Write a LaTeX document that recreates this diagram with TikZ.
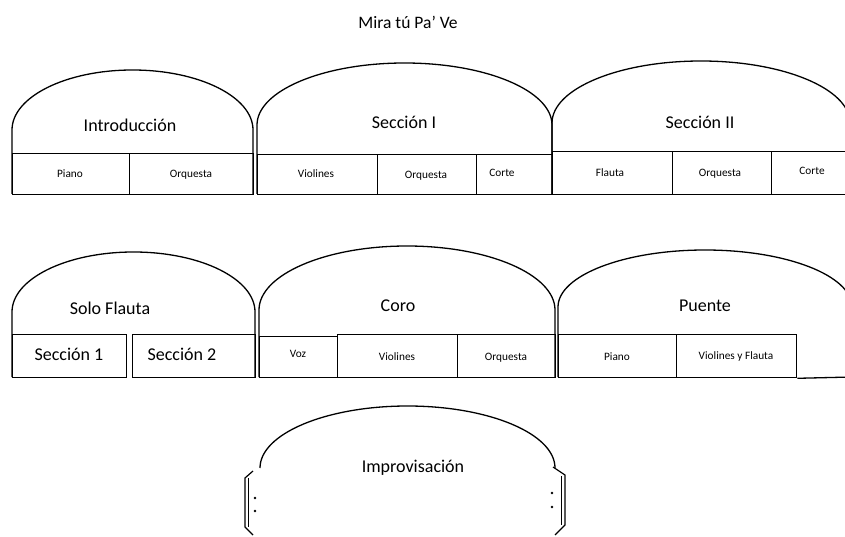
\documentclass[tikz,border=0pt]{standalone}
\usepackage{fontspec}
\setmainfont{Carlito}
\tikzset{
  arcline/.style={draw=black, line width=1.3pt},
  cell/.style={draw=black, line width=1.3pt, inner sep=0pt, anchor=north west},
  small/.style={font=\fontsize{11.3}{13}\selectfont, inner sep=0pt, text height=7.5pt, text depth=2.5pt},
  mid/.style={font=\fontsize{18}{21}\selectfont, inner sep=0pt, text height=12.5pt, text depth=4pt},
  title/.style={font=\fontsize{18}{21}\selectfont, inner sep=0pt, text height=12.5pt, text depth=4pt},
  toptitle/.style={font=\fontsize{17.5}{20}\selectfont, inner sep=0pt},
  repline/.style={draw=black, line width=1.2pt},
}
\newcommand\myarch[6]{% L, R, bottom, cy, rx, ry
  \draw[arcline] (#1,#3) -- (#1,#4) arc[start angle=180, end angle=0, x radius=#5pt, y radius=#6pt] -- (#2,#3);}
\newcommand\mycell[5]{% name, L, R, top, bottom
  \node[cell, minimum width={(#3-#2)*1pt}, minimum height={(#5-#4)*1pt}] (#1) at (#2,#4) {};}
\begin{document}
\begin{tikzpicture}[x=1pt, y=-1pt]
\useasboundingbox (0,0) rectangle (845,537);
\clip (0,0) rectangle (845,537);
\fill[white] (0,0) rectangle (845,537);

\node[toptitle] (title) at (408,22) {Mira tú Pa’ Ve};

% ---------- Row 1 ----------
\myarch{12}{253}{194}{130}{120.5}{60}
\myarch{257}{552}{194}{125}{147.5}{62}
\myarch{552}{850}{194}{123}{149}{62}
\node[title] (intro) at (130,127) {Introducción};
\node[title] (s1) at (404,124) {Sección I};
\node[title] (s2) at (700,124) {Sección II};

\mycell{i1}{12}{129}{153}{194}
\mycell{i2}{129}{253}{153}{194}
\mycell{a1}{257}{377}{154}{194}
\mycell{a2}{377}{476}{154}{194}
\mycell{a3}{476}{552}{154}{194}
\mycell{b1}{552}{672}{151}{194}
\mycell{b2}{672}{771}{151}{194}
\mycell{b3}{771}{850}{151}{194}
\node[small] (ti1) at (70,175) {Piano};
\node[small] (ti2) at (191,175) {Orquesta};
\node[small] (ta1) at (316,175) {Violines};
\node[small] (ta2) at (426,176) {Orquesta};
\node[small] (ta3) at (502,174) {Corte};
\node[small] (tb1) at (610,174) {Flauta};
\node[small] (tb2) at (720,174) {Orquesta};
\node[small] (tb3) at (812,172) {Corte};

% ---------- Row 2 ----------
\myarch{12}{255}{377}{312}{121.5}{60}
\myarch{259}{555}{377}{310}{148}{64}
\myarch{558}{852}{377}{307}{147}{57}
\node[title] (solo) at (110,310) {Solo Flauta};
\node[title] (coro) at (398,307) {Coro};
\node[title] (puente) at (705,307) {Puente};

\mycell{c1}{12}{126}{334}{377}
\mycell{c2}{132}{255}{334}{377}
\mycell{d1}{259}{337}{336}{377}
\mycell{d2}{337}{457}{334}{377}
\mycell{d3}{457}{555}{334}{377}
\mycell{e1}{558}{676}{334}{377}
\mycell{e2}{676}{796}{334}{377}
\coordinate (eend) at (852,377);
\draw[arcline] (e2.south east) -- (eend);
\node[mid] (tc1) at (69,356) {Sección 1};
\node[mid] (tc2) at (182,356) {Sección 2};
\node[small] (td1) at (298,355) {Voz};
\node[small] (td2) at (397,358) {Violines};
\node[small] (td3) at (506,358) {Orquesta};
\node[small] (te1) at (617,358) {Piano};
\node[small] (te2) at (736,357) {Violines y Flauta};

% ---------- Row 3 ----------
\draw[arcline] (260,468) arc[start angle=180, end angle=0, x radius=147.5pt, y radius=62pt];
\node[title] (impro) at (413,468) {Improvisación};
% left repeat sign
\draw[repline] (253,471) -- (245,478) -- (245,527) -- (253,535);
\draw[repline] (248.8,478) -- (248.8,527);
\fill (255,498) circle[radius=1.4pt];
\fill (255,511) circle[radius=1.4pt];
% right repeat sign
\draw[repline] (553,467) -- (565,475) -- (565,525) -- (555,535);
\draw[repline] (561.2,476) -- (561.2,525);
\fill (552,493) circle[radius=1.4pt];
\fill (552,507) circle[radius=1.4pt];
\end{tikzpicture}
\end{document}
